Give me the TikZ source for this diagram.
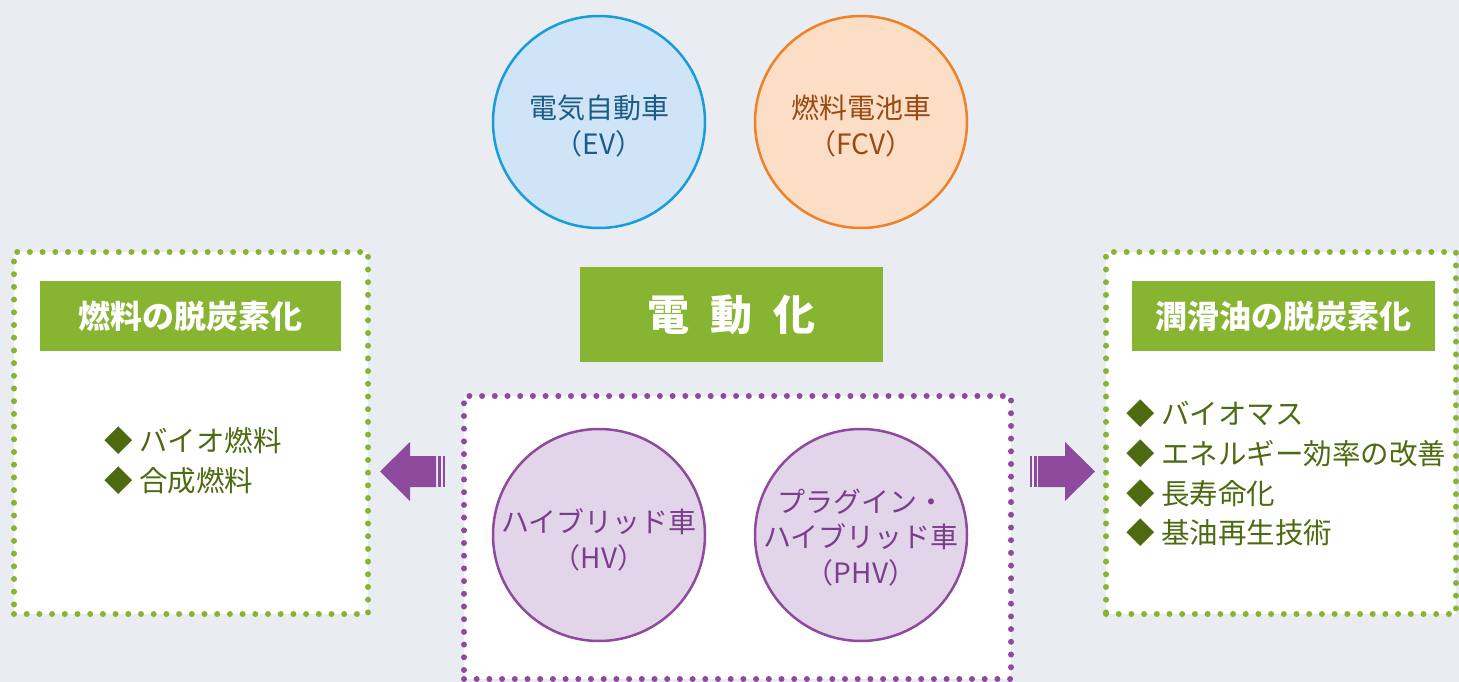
\documentclass[tikz,border=0pt]{standalone}
\usepackage{fontspec}
\setmainfont{Noto Sans CJK JP}
\definecolor{bgc}{HTML}{E9ECF1}
\definecolor{evfill}{HTML}{CFE4F6}
\definecolor{evline}{HTML}{199DD9}
\definecolor{evtext}{HTML}{1D5C86}
\definecolor{fcfill}{HTML}{FCDDC5}
\definecolor{fcline}{HTML}{EE8229}
\definecolor{fctext}{HTML}{9A4A12}
\definecolor{hvfill}{HTML}{E2D5E9}
\definecolor{purp}{HTML}{8E4A9C}
\definecolor{hvtext}{HTML}{7A3E8B}
\definecolor{grn}{HTML}{87B431}
\definecolor{olive}{HTML}{4E6A10}
\tikzset{
  carcircle/.style={circle, minimum size=212pt, line width=2.5pt, align=center, inner sep=0pt,
    font=\fontsize{28}{35.5}\selectfont},
  dotbox/.style={line width=6pt, line cap=round, dash pattern=on 0pt off 12.7pt, fill=white},
  titlebar/.style={fill=grn, text=white, font=\fontsize{32}{36}\selectfont\bfseries, inner sep=0pt},
  bullets/.style={text=olive, align=left, anchor=north west, inner sep=0pt,
    font=\fontsize{28.5}{39.6}\selectfont},
  blockarrow/.style={fill=purp}
}
\begin{document}
\begin{tikzpicture}[x=1pt,y=-1pt]
\useasboundingbox (0,0) rectangle (1459,682);
\fill[bgc] (0,0) rectangle (1459,682);

% dotted boxes
\node[dotbox, draw=grn, minimum width=354pt, minimum height=362pt] (leftbox) at (191,433) {};
\node[dotbox, draw=grn, minimum width=350pt, minimum height=362pt] (rightbox) at (1281,433) {};
\node[dotbox, draw=purp, minimum width=547pt, minimum height=283pt] (centerbox) at (737.5,537.5) {};

% top circles
\node[carcircle, draw=evline, fill=evfill, text=evtext] (ev) at (599,122) {};
\node[carcircle, draw=fcline, fill=fcfill, text=fctext] (fcv) at (861,122) {};
\node[align=center, text=evtext, font=\fontsize{28}{35.5}\selectfont] (evt) at (599,126) {電気自動車\\（EV）};
\node[align=center, text=fctext, font=\fontsize{28}{35.5}\selectfont] (fct) at (861,126) {燃料電池車\\（FCV）};

% bottom circles
\node[carcircle, draw=purp, fill=hvfill, text=hvtext] (hv) at (599,535) {};
\node[carcircle, draw=purp, fill=hvfill, text=hvtext] (phv) at (861,535) {};
\node[align=center, text=hvtext, font=\fontsize{28}{35.5}\selectfont] (hvt) at (599,540) {ハイブリッド車\\（HV）};
\node[align=center, text=hvtext, font=\fontsize{28}{35.5}\selectfont] (phvt) at (861,537.5) {プラグイン・\\ハイブリッド車\\（PHV）};

% title bars
\node[titlebar, minimum width=301pt, minimum height=70pt] (lt) at (190.5,316) {燃料の脱炭素化};
\node[titlebar, minimum width=303pt, minimum height=70pt] (rt) at (1283.5,316) {潤滑油の脱炭素化};
\node[titlebar, minimum width=303pt, minimum height=95pt, font=\fontsize{42}{46}\selectfont\bfseries] (ed) at (731.5,314.5) {電\hspace{21pt}動\hspace{21pt}化};

% bullet lists
\node[bullets] (lb) at (104,427) {◆ バイオ燃料\\◆ 合成燃料};
\node[bullets] (rb) at (1126,400) {◆ バイオマス\\◆ エネルギー効率の改善\\◆ 長寿命化\\◆ 基油再生技術};

% block arrows
\fill[blockarrow] (380,471.5) -- (410,442) -- (410,456) -- (436,456) -- (436,487) -- (410,487) -- (410,501) -- cycle;
\fill[blockarrow] (437.7,456) rectangle (440.7,487);
\fill[blockarrow] (442.7,456) rectangle (445.3,487);

\fill[blockarrow] (1095,471.5) -- (1065,442) -- (1065,456) -- (1038,456) -- (1038,487) -- (1065,487) -- (1065,501) -- cycle;
\fill[blockarrow] (1030,456) rectangle (1032.3,487);
\fill[blockarrow] (1033.5,456) rectangle (1036.8,487);
\end{tikzpicture}
\end{document}
